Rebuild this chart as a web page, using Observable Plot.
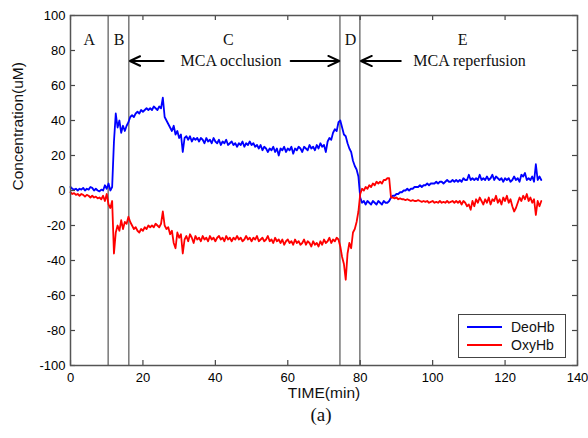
<!DOCTYPE html>
<html><head><meta charset="utf-8">
<script src="https://cdn.jsdelivr.net/npm/d3@7"></script>
<script src="https://cdn.jsdelivr.net/npm/@observablehq/plot@0.6"></script>
<style>
body{margin:0;background:#fff;}
#wrap{position:relative;width:588px;height:438px;}
#legend{position:absolute;left:458px;top:314px;width:106px;height:42px;border:1.5px solid #444;background:#fff;font-family:"Liberation Sans",Arial,sans-serif;font-size:14px;color:#111;}
.lrow{position:absolute;left:0;height:16px;display:flex;align-items:center;}
.lsw{display:inline-block;width:35px;height:0;margin-left:8px;margin-right:9px;border-top:2px solid;}
</style></head><body><div id="wrap"><div id="legend"></div></div>
<script>
const time = [
0,0.5,1,1.5,2,2.5,3,3.5,4,4.5,5,5.5,6,6.5,7,7.5,8,8.5,9,9.5,
10,10.5,11,11.5,12,12.5,13,13.5,14,14.5,15,15.5,16,16.5,17,17.5,18,18.5,19,19.5,
20,20.5,21,21.5,22,22.5,23,23.5,24,24.5,25,25.5,26,26.5,27,27.5,28,28.5,29,29.5,
30,30.5,31,31.5,32,32.5,33,33.5,34,34.5,35,35.5,36,36.5,37,37.5,38,38.5,39,39.5,
40,40.5,41,41.5,42,42.5,43,43.5,44,44.5,45,45.5,46,46.5,47,47.5,48,48.5,49,49.5,
50,50.5,51,51.5,52,52.5,53,53.5,54,54.5,55,55.5,56,56.5,57,57.5,58,58.5,59,59.5,
60,60.5,61,61.5,62,62.5,63,63.5,64,64.5,65,65.5,66,66.5,67,67.5,68,68.5,69,69.5,
70,70.5,71,71.5,72,72.5,73,73.5,74,74.5,75,75.5,76,76.5,77,77.5,78,78.5,79,79.5,
80,80.5,81,81.5,82,82.5,83,83.5,84,84.5,85,85.5,86,86.5,87,87.5,88,88.5,89,89.5,
90,90.5,91,91.5,92,92.5,93,93.5,94,94.5,95,95.5,96,96.5,97,97.5,98,98.5,99,99.5,
100,100.5,101,101.5,102,102.5,103,103.5,104,104.5,105,105.5,106,106.5,107,107.5,108,108.5,109,109.5,
110,110.5,111,111.5,112,112.5,113,113.5,114,114.5,115,115.5,116,116.5,117,117.5,118,118.5,119,119.5,
120,120.5,121,121.5,122,122.5,123,123.5,124,124.5,125,125.5,126,126.5,127,127.5,128,128.5,129,129.5,
130];
const deoHb = [
2,1,0.5,1,0,1,0.5,1.5,0,1,0.5,2,1.5,0,1,0,-0.5,0.5,0,3,
1,4,0,2,28,44,36,40,33,37,34,37,39,42,43,42,44,45,44,46,
45,46,47,46,47,46,48,47,46,48,47,53,42,40,38,36,34,37,32,34,
30,32,22,30,31,29,31,28,30,29,30,28,30,29,27,30,28,29,27,30,
28,27,29,26,28,27,29,26,27,28,26,27,25,27,26,28,25,27,26,28,
26,27,25,26,24,26,23,25,24,22,24,23,25,22,24,20,24,23,25,22,
24,23,25,21,24,23,25,24,22,25,24,23,26,24,25,23,26,24,27,25,
26,22,28,30,29,33,35,34,39,40,36,32,31,27,24,22,17,14,12,8,
-4,-7,-6,-8,-6,-7,-8,-6,-7,-8,-6,-7,-8,-6,-7,-7,-6,-4,-3,-3,
-2,-2,-1,-1,0,0,1,0,1,1,2,2,2,3,2,3,3,4,3,4,
4,4,5,4,5,5,4,5,6,5,5,6,5,6,5,6,5,7,6,6,
9,6,7,6,7,6,9,6,7,6,8,6,7,9,6,8,7,6,7,5,
7,6,7,5,6,8,6,7,5,9,8,10,6,7,6,8,5,15,6,8,
6];
const oxyHb = [
-1,-2,-1.5,-2.5,-2,-3,-2,-2.5,-3.5,-2.5,-3,-4,-3,-4,-3.5,-4.5,-4,-5,-3,-6,
-2,-8,-10,-6,-36,-24,-20,-23,-17,-22,-18,-19,-15,-18,-20,-22,-21,-23,-24,-22,
-23,-21,-22,-20,-21,-20,-21,-19,-20,-21,-19,-12,-20,-22,-21,-25,-23,-30,-33,-24,
-27,-25,-36,-28,-26,-29,-25,-27,-30,-26,-28,-27,-29,-26,-28,-27,-29,-26,-28,-27,
-29,-27,-26,-28,-27,-29,-26,-28,-27,-29,-27,-28,-26,-28,-27,-29,-28,-26,-28,-27,
-29,-27,-28,-26,-29,-28,-27,-29,-28,-26,-29,-28,-30,-27,-29,-28,-30,-28,-31,-29,
-28,-30,-29,-31,-28,-30,-29,-31,-30,-28,-31,-29,-30,-32,-29,-31,-30,-32,-29,-31,
-28,-30,-29,-27,-30,-28,-29,-27,-28,-32,-38,-42,-51,-36,-30,-33,-24,-22,-18,-12,
-2,1,0,2,1,3,2,4,3,5,4,5,4,6,6,7,7,-4,-4,-4.5,
-4,-5,-4.5,-5,-5,-5.5,-5,-5.5,-6,-5.5,-6,-6,-5.5,-6,-6.5,-6,-6.5,-6,-7,-6.5,
-6,-7,-6.5,-7,-6,-7,-6.5,-7,-6,-7,-6.5,-6,-7,-6,-7,-6,-8,-6,-7,-9,
-8,-11,-6,-9,-5,-7,-4,-6,-8,-5,-7,-4,-8,-5,-6,-3,-7,-5,-8,-4,
-6,-3,-7,-5,-9,-12,-10,-7,-4,-6,-3,-5,-2,-6,-4,-7,-5,-14,-6,-9,
-6];
const seriesNames = ["DeoHb", "OxyHb"];
const seriesColors = ["#0000ff", "#ff0000"];
const xTicks = [0,20,40,60,80,100,120,140];
const yTicks = [-100,-80,-60,-40,-20,0,20,40,60,80,100];
const phaseBounds = [10.4, 16.1, 74.4, 79.9];
const phaseNames = ["A","B","C","D","E"];
const phaseNameX = [5.2, 13.4, 43.6, 77.3, 108.3];
const phaseNameY = 86;
const notes = ["MCA occlusion", "MCA reperfusion"];
const noteX = [44.3, 110.2];
const noteY = 74;
const arrowFrom = [25.7, 60.8, 91.2];
const arrowTo = [16.4, 74.2, 80.2];

const W = 588, H = 438, mL = 70, mR = 11, mT = 15, mB = 73;
const pw = W - mL - mR, ph = H - mT - mB;
const deoRows = time.map((t, i) => ({t, v: deoHb[i]}));
const oxyRows = time.map((t, i) => ({t, v: oxyHb[i]}));
const serif = "'Liberation Serif','Times New Roman',serif";
const sans = "'Liberation Sans',Arial,sans-serif";

const chart = Plot.plot({
  width: W, height: H,
  marginLeft: mL, marginRight: mR, marginTop: mT, marginBottom: mB,
  x: {domain: [0, 140]},
  y: {domain: [-100, 100]},
  style: {fontFamily: sans, fontSize: "13px", color: "#000", background: "#fff"},
  marks: [
    Plot.ruleX(phaseBounds, {x: d => d, stroke: "#777", strokeWidth: 1.5}),
    Plot.line(deoRows, {x: "t", y: "v", stroke: seriesColors[0], strokeWidth: 1.8}),
    Plot.line(oxyRows, {x: "t", y: "v", stroke: seriesColors[1], strokeWidth: 1.8}),
    Plot.tickY(yTicks, {y: d => d, insetRight: pw - 5, stroke: "#444", strokeWidth: 1.2}),
    Plot.tickY(yTicks, {y: d => d, insetLeft: pw - 5, stroke: "#444", strokeWidth: 1.2}),
    Plot.tickX(xTicks, {x: d => d, insetTop: ph - 5, stroke: "#444", strokeWidth: 1.2}),
    Plot.tickX(xTicks, {x: d => d, insetBottom: ph - 5, stroke: "#444", strokeWidth: 1.2}),
    Plot.frame({stroke: "#555", strokeWidth: 1.5}),
    Plot.axisX(xTicks, {tickSize: 0, tickPadding: 7, tickFormat: d => String(d), label: null, fontSize: 13}),
    Plot.axisY(yTicks, {tickSize: 0, tickPadding: 5, tickFormat: d => String(d), label: null, fontSize: 13}),
    Plot.text(phaseNames, {x: (d, i) => phaseNameX[i], y: phaseNameY, text: d => d, fontFamily: serif, fontSize: 16, fill: "#111"}),
    Plot.text(notes, {x: (d, i) => noteX[i], y: noteY, text: d => d, fontFamily: serif, fontSize: 16, fill: "#111"}),
    Plot.arrow(arrowFrom, {x1: d => d, x2: (d, i) => arrowTo[i], y1: noteY, y2: noteY, stroke: "#000", strokeWidth: 2, headLength: 9, headAngle: 50}),
    Plot.text(["TIME(min)"], {frameAnchor: "bottom", dy: 32, text: d => d, fontFamily: sans, fontSize: 15.5, fill: "#111"}),
    Plot.text(["Concentration(uM)"], {frameAnchor: "left", dx: -52, rotate: -90, text: d => d, fontFamily: sans, fontSize: 15.5, fill: "#111"}),
    Plot.text(["(a)"], {frameAnchor: "bottom", dx: -3, dy: 55, text: d => d, fontFamily: serif, fontSize: 19, fill: "#111"})
  ]
});
const wrap = document.getElementById("wrap");
wrap.insertBefore(chart, wrap.firstChild);

const legend = document.getElementById("legend");
seriesNames.forEach((name, i) => {
  const row = document.createElement("div");
  row.className = "lrow";
  row.style.top = (4 + i * 18) + "px";
  const sw = document.createElement("span");
  sw.className = "lsw";
  sw.style.borderTopColor = seriesColors[i];
  row.appendChild(sw);
  row.appendChild(document.createTextNode(name));
  legend.appendChild(row);
});
</script>
</body></html>
